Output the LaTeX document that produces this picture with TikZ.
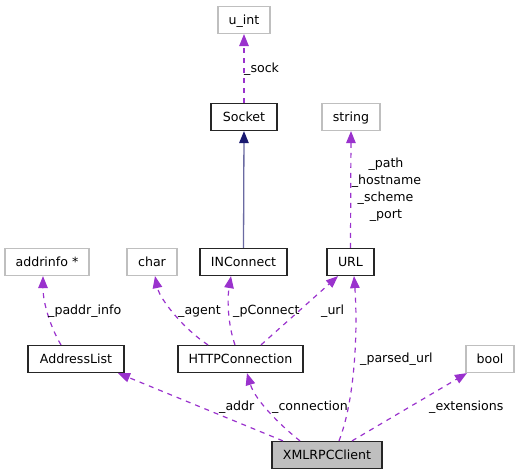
\documentclass[tikz,border=0pt]{standalone}
\usepackage{fontspec}
\setmainfont{DejaVu Sans}
\usetikzlibrary{arrows.meta}
\definecolor{usecol}{HTML}{9A32CD}
\definecolor{inhcol}{HTML}{191970}
\definecolor{graybox}{HTML}{BFBFBF}
\tikzset{
  cls/.style={draw=black!85, fill=white, line width=1.2pt, minimum height=27pt,
    text height=9pt, text depth=0pt, inner sep=0pt},
  ext/.style={cls, draw=graybox},
  mainbox/.style={cls, fill=graybox},
  usage/.style={draw=usecol, line width=1.2pt, dash pattern=on 5pt off 5pt,
    -{Triangle[length=12pt,width=9.5pt,fill=usecol]}},
  inherit/.style={draw=inhcol!65, line width=1.3pt,
    -{Triangle[length=12pt,width=9.5pt,fill=inhcol,color=inhcol]}},
  lbl/.style={anchor=base west, inner sep=0pt},
  clbl/.style={anchor=base, inner sep=0pt}
}
\begin{document}
\begin{tikzpicture}[x=1pt,y=-1pt,font=\fontsize{12.6}{15}\selectfont]
\useasboundingbox (0,0) rectangle (520,475);
% nodes
\node[ext, minimum width=52pt] (uint) at (244,20) {u\_int};
\node[cls, minimum width=66pt] (socket) at (244,117) {Socket};
\node[ext, minimum width=58pt] (string) at (351,117) {string};
\node[ext, minimum width=84pt] (addrinfo) at (47,262) {addrinfo *};
\node[ext, minimum width=50pt] (char) at (152,262) {char};
\node[cls, minimum width=87pt] (inconnect) at (243.5,262) {INConnect};
\node[cls, minimum width=47pt] (url) at (350.5,262) {URL};
\node[cls, minimum width=96pt] (addrlist) at (76,359) {AddressList};
\node[cls, minimum width=125pt] (http) at (240.5,359) {HTTPConnection};
\node[ext, minimum width=48pt] (bool) at (490,359) {bool};
\node[mainbox, minimum width=110pt] (client) at (327,455) {XMLRPCClient};
% edges
\draw[usage] (socket.north) -- (uint.south);
\draw[inherit] (inconnect.north) -- (socket.south);
\draw[usage] (url.north) -- (string.south);
\draw[usage] ([xshift=-15pt]addrlist.north) .. controls (52,330) and (43,305) .. ([xshift=-4pt]addrinfo.south);
\draw[usage] ([xshift=-32.5pt]http.north) .. controls (185,330) and (160,300) .. ([xshift=3pt]char.south);
\draw[usage] ([xshift=-5.5pt]http.north) .. controls (228,325) and (227,300) .. ([xshift=-12.5pt]inconnect.south);
\draw[usage] ([xshift=20.5pt]http.north) -- ([xshift=-12.5pt]url.south);
\draw[usage] ([xshift=-44pt]client.north) -- ([xshift=42pt]addrlist.south);
\draw[usage] ([xshift=-27pt]client.north) .. controls (280,425) and (255,400) .. ([xshift=6.5pt]http.south);
\draw[usage] ([xshift=12pt]client.north) .. controls (355,400) and (358,330) .. ([xshift=3.5pt]url.south);
\draw[usage] ([xshift=25pt]client.north) -- ([xshift=-23pt]bool.south);
% labels
\node[lbl] (lsock) at (244,72) {\_sock};
\node[clbl] (lpath) at (386,167) {\_path};
\node[clbl] (lhost) at (386.5,184) {\_hostname};
\node[clbl] (lscheme) at (385.5,201) {\_scheme};
\node[clbl] (lport) at (386,218) {\_port};
\node[lbl] (lpaddr) at (48,314) {\_paddr\_info};
\node[lbl] (lagent) at (178,314) {\_agent};
\node[lbl] (lpconn) at (233,314) {\_pConnect};
\node[lbl] (lurl) at (321,314) {\_url};
\node[lbl] (laddr) at (219,410) {\_addr};
\node[lbl] (lconn) at (272,410) {\_connection};
\node[lbl] (lparsed) at (360,362) {\_parsed\_url};
\node[lbl] (lext) at (429,410) {\_extensions};
\end{tikzpicture}
\end{document}
